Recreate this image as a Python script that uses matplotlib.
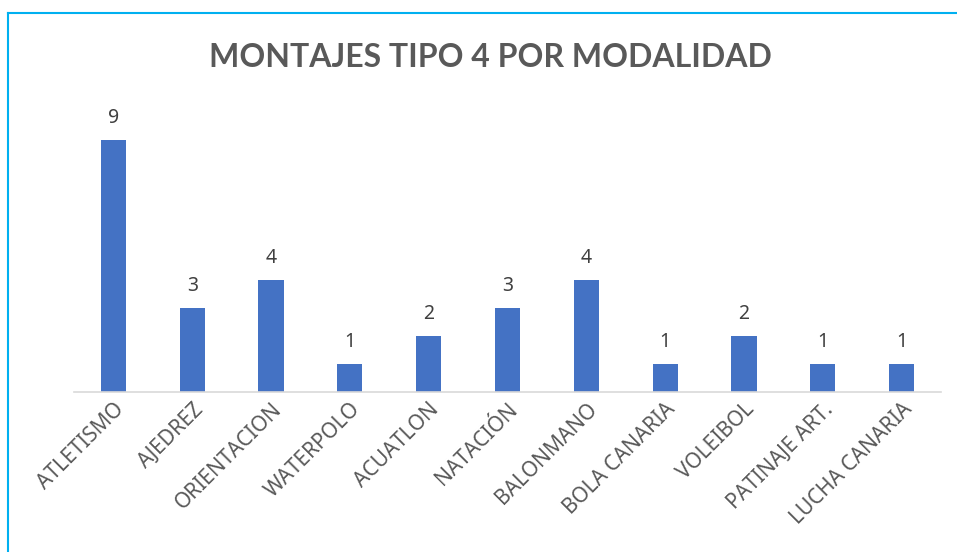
import matplotlib.pyplot as plt
from matplotlib.lines import Line2D

modalidades = ['ATLETISMO', 'AJEDREZ', 'ORIENTACION', 'WATERPOLO', 'ACUATLON',
               'NATACIÓN', 'BALONMANO', 'BOLA CANARIA', 'VOLEIBOL',
               'PATINAJE ART.', 'LUCHA CANARIA']
montajes = [9, 3, 4, 1, 2, 3, 4, 1, 2, 1, 1]

plt.rcParams['font.family'] = ['Noto Sans', 'DejaVu Sans']

fig = plt.figure(figsize=(9.57, 5.52), dpi=100)
ax = fig.add_axes([0.0773, 0.290, 0.906, 0.507])

x = range(len(modalidades))
bars = ax.bar(x, montajes, width=0.32, color='#4472C4', zorder=2)
for xi, v in zip(x, montajes):
    ax.text(xi, v + 0.6, str(v), ha='center', va='baseline', fontsize=14, color='#404040')

ax.set_xlim(-0.5, len(modalidades) - 0.5)
ax.set_ylim(0, 10)
ax.set_xticks(list(x))
ax.set_xticklabels(modalidades, rotation=45, ha='right', rotation_mode='anchor',
                   fontsize=15, color='#595959')
ax.tick_params(axis='x', length=0, pad=5)
ax.set_yticks([])
for s in ['top', 'right', 'left']:
    ax.spines[s].set_visible(False)
ax.spines['bottom'].set_color('#D9D9D9')
ax.spines['bottom'].set_linewidth(1.2)

fig.text(0.512, 0.895, 'MONTAJES TIPO 4 POR MODALIDAD', ha='center', va='center',
         fontsize=23, fontweight='bold', color='#595959', family=['Lato', 'DejaVu Sans'])

# chart frame (top and left edges)
fig.add_artist(Line2D([8 / 957, 1], [1 - 12.5 / 552, 1 - 12.5 / 552],
                      transform=fig.transFigure, color='#00B0F0', lw=1.5))
fig.add_artist(Line2D([8 / 957, 8 / 957], [0, 1 - 12.5 / 552],
                      transform=fig.transFigure, color='#00B0F0', lw=1.5))

fig.savefig('out.png', dpi=100)
